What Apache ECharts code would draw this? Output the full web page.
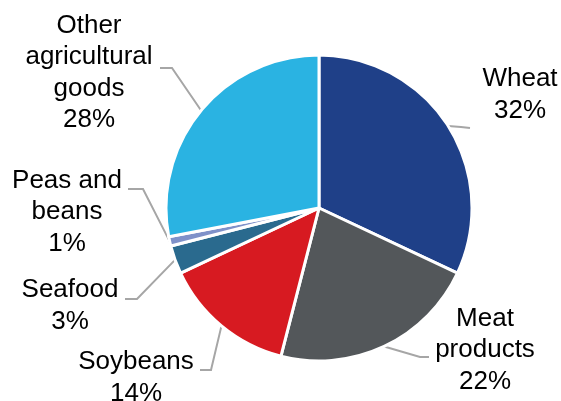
<!DOCTYPE html>
<html>
    <head>
        <meta charset="utf-8">
        <title>Pie</title>
        <script src="https://cdn.jsdelivr.net/npm/echarts@6/dist/echarts.min.js"></script>
        <style>
            html, body { margin: 0; padding: 0; background: #fff; }
        </style>
    </head>
    <body>
        <div id="main" style="width:561px;height:401px;"></div>
        <script type="text/javascript">
            // data
            var names = ['Wheat', 'Meat\nproducts', 'Soybeans', 'Seafood', 'Peas and\nbeans', 'Other\nagricultural\ngoods'];
            var shares = [32, 22, 14, 3, 1, 28];
            var colors = ['#1f4088', '#53575a', '#d71a21', '#2a6a8e', '#7f91c9', '#2ab3e2'];

            // where each label sits and how its leader line bends
            var spots = [
                { x: 520, y: 95,  bend: [461, 127], end: [470, 128] },
                { x: 485, y: 350, bend: [420, 357], end: [429, 357] },
                { x: 136, y: 378, bend: [211, 370], end: [200, 370] },
                { x: 70,  y: 306, bend: [137, 299], end: [125, 299] },
                { x: 67,  y: 212, bend: [143, 189], end: [128, 189] },
                { x: 89,  y: 73,  bend: [172, 68],  end: [160, 68] }
            ];

            var pieData = [];
            for (var i = 0; i < names.length; i++) {
                pieData.push({ name: names[i], value: shares[i], itemStyle: { color: colors[i] } });
            }

            var myChart = echarts.init(document.getElementById('main'));
            var option = {
                animation: false,
                series: [{
                    type: 'pie',
                    center: [319, 208],
                    radius: 153,
                    startAngle: 90,
                    clockwise: true,
                    data: pieData,
                    itemStyle: {
                        borderColor: '#fff',
                        borderWidth: 3
                    },
                    label: {
                        show: true,
                        position: 'outside',
                        overflow: 'none',
                        color: '#000',
                        fontFamily: 'Liberation Sans, Arial, sans-serif',
                        fontSize: 26,
                        lineHeight: 31.5,
                        align: 'center',
                        formatter: function (p) {
                            return p.name + '\n' + Math.round(p.percent) + '%';
                        }
                    },
                    labelLine: {
                        show: true,
                        lineStyle: { color: '#a6a6a6', width: 2 }
                    },
                    labelLayout: function (p) {
                        var s = spots[p.dataIndex];
                        var start = p.labelLinePoints ? p.labelLinePoints[0] : s.bend;
                        return {
                            x: s.x,
                            y: s.y,
                            align: 'center',
                            verticalAlign: 'middle',
                            labelLinePoints: [start, s.bend, s.end]
                        };
                    }
                }]
            };
            myChart.setOption(option);
        </script>
    </body>
</html>
